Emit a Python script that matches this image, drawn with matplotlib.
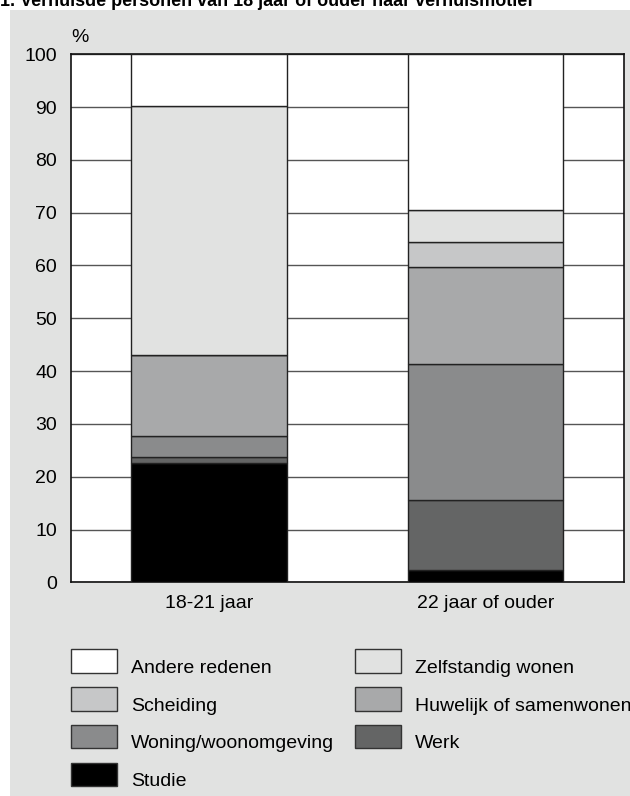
import matplotlib.pyplot as plt
from matplotlib.patches import Rectangle

plt.rcParams['font.family'] = ['Liberation Sans', 'DejaVu Sans']

# Data (percentages, stacked bottom -> top)
groups = ['18-21 jaar', '22 jaar of ouder']
motives = ['Studie', 'Werk', 'Woning/woonomgeving', 'Huwelijk of samenwonen',
           'Scheiding', 'Zelfstandig wonen', 'Andere redenen']
studie = [22.6, 2.3]
werk = [1.1, 13.2]
woning = [4.0, 25.9]
huwelijk = [15.3, 18.3]
scheiding = [0.0, 4.8]
zelfstandig = [47.3, 6.0]
andere = [9.7, 29.5]
series = [studie, werk, woning, huwelijk, scheiding, zelfstandig, andere]
colors = ['#000000', '#646565', '#8a8b8c', '#a8a9aa', '#c6c7c8', '#e1e2e1', '#ffffff']

# legend order as in the reference (column by column)
legend_order = ['Andere redenen', 'Scheiding', 'Woning/woonomgeving', 'Studie',
                'Zelfstandig wonen', 'Huwelijk of samenwonen', 'Werk']

title = '1. Verhuisde personen van 18 jaar of ouder naar verhuismotief'

W, H = 630, 796
FS = 14
fig = plt.figure(figsize=(W / 100, H / 100), dpi=100)
fig.patch.set_facecolor('white')

# grey panel behind the chart
fig.add_artist(Rectangle((10 / W, 0), 1 - 10 / W, 1 - 10 / H, transform=fig.transFigure,
                         facecolor='#e1e2e1', edgecolor='none', zorder=0))
fig.text(0.0, 1 - 1 / H, title, fontsize=13, fontweight='bold', va='center', ha='left')

ax = fig.add_axes([71 / W, 1 - 582.3 / H, (623.5 - 71) / W, (582.3 - 54.3) / H])
ax.set_facecolor('white')

x = list(range(len(groups)))
bottom = [0.0] * len(groups)
for vals, col in zip(series, colors):
    ax.bar(x, vals, bottom=bottom, width=0.563, color=col, edgecolor='#222222',
           linewidth=1.0, zorder=3)
    bottom = [b + v for b, v in zip(bottom, vals)]

ax.set_xlim(-0.5, 1.5)
ax.set_ylim(0, 100)
ax.set_yticks(range(0, 101, 10))
ax.set_xticks(x)
ax.set_xticklabels(groups)
ax.tick_params(axis='both', length=0, labelsize=FS)
ax.tick_params(axis='y', pad=10)
ax.tick_params(axis='x', pad=9)
ax.yaxis.grid(True, color='#555555', linewidth=1.0)
ax.set_axisbelow(True)
for s in ax.spines.values():
    s.set_color('#111111')
    s.set_linewidth(1.2)

fig.text(80 / W, 1 - 37 / H, '%', fontsize=FS, ha='center', va='center')

# legend drawn by hand in two columns
col_x = [71, 355]
row_top = [649.3, 687.1, 724.9, 762.7]
for i, name in enumerate(legend_order):
    c = i // 4
    r = i % 4
    col = colors[motives.index(name)]
    px, py = col_x[c], row_top[r]
    fig.add_artist(Rectangle((px / W, 1 - (py + 23.4) / H), 46 / W, 23.4 / H,
                             transform=fig.transFigure, facecolor=col,
                             edgecolor='#333333', linewidth=1.0))
    fig.text((px + 60) / W, 1 - (py + 23.6) / H, name, fontsize=FS,
             va='baseline', ha='left')

fig.savefig('out.png', dpi=100)
